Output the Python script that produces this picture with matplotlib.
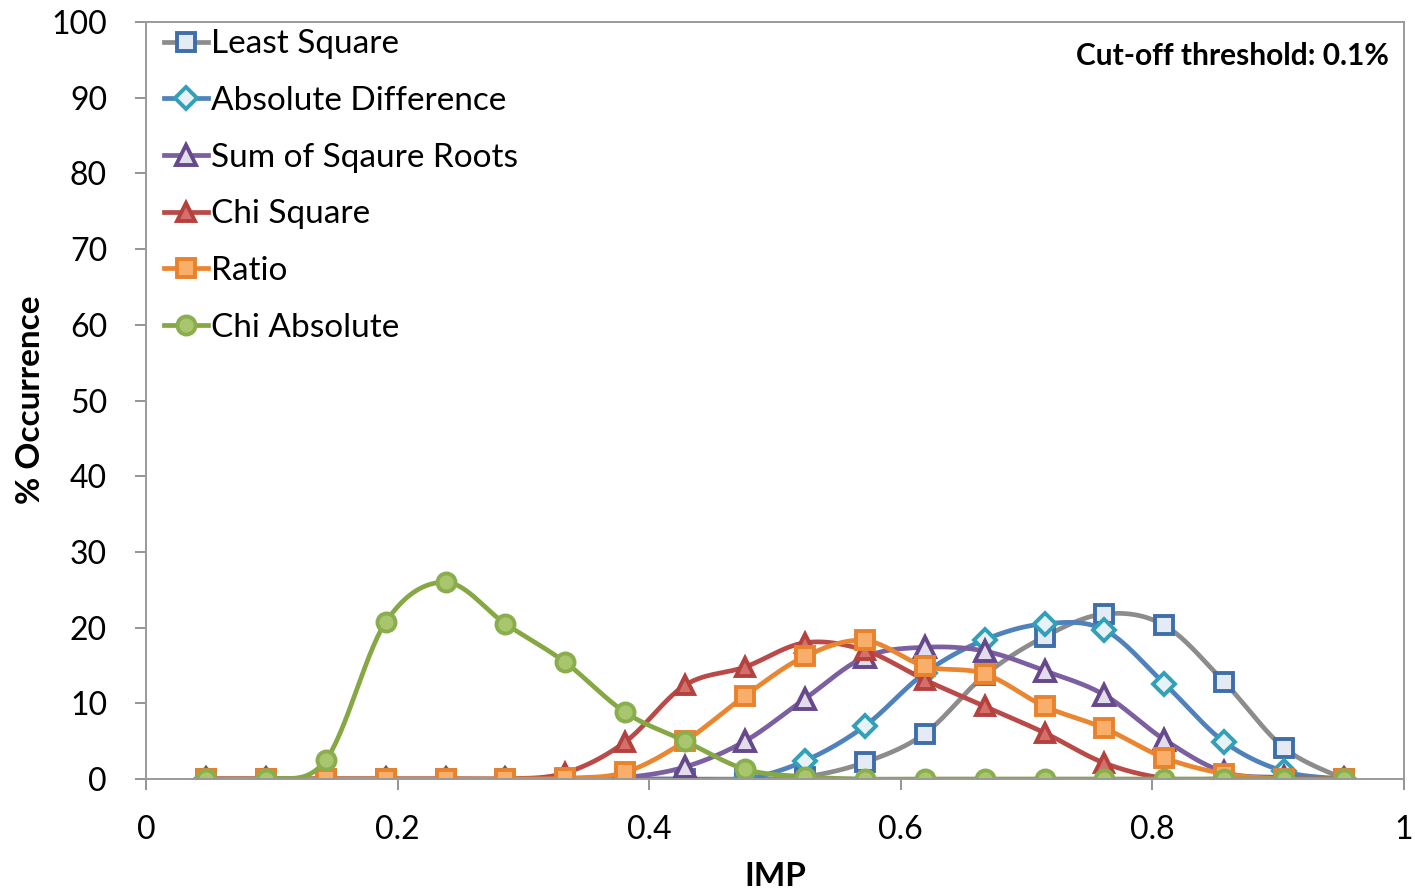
import numpy as np
import matplotlib
matplotlib.use("Agg")
import matplotlib.pyplot as plt
from matplotlib.lines import Line2D

plt.rcParams["font.family"] = ["Lato", "DejaVu Sans"]

# IMP bins at k/21, k = 1..20
imp = [k / 21 for k in range(1, 21)]

least_square = [0, 0, 0, 0, 0, 0, 0, 0, 0, 0, 0.3, 2.2, 6.0, 13.7, 18.8, 21.8, 20.3, 12.8, 4.1, 0]
abs_difference = [0, 0, 0, 0, 0, 0, 0, 0, 0, 0, 2.4, 7.0, 14.0, 18.4, 20.5, 19.7, 12.6, 4.9, 1.0, 0]
sum_sqrt = [0, 0, 0, 0, 0, 0, 0, 0.2, 1.6, 5.0, 10.6, 16.1, 17.4, 16.9, 14.3, 11.1, 5.2, 0.9, 0.2, 0]
chi_square = [0, 0, 0, 0, 0, 0, 0.8, 4.9, 12.4, 14.8, 18.0, 17.0, 13.1, 9.6, 6.1, 2.1, 0.1, 0, 0, 0]
ratio = [0, 0, 0, 0, 0, 0, 0.1, 0.9, 5.0, 11.0, 16.2, 18.3, 14.9, 13.9, 9.6, 6.7, 2.8, 0.7, 0, 0]
chi_absolute = [0, 0, 2.5, 20.7, 26.0, 20.5, 15.4, 8.8, 5.0, 1.3, 0.3, 0, 0, 0, 0, 0, 0, 0, 0, 0]

labels = ["Least Square", "Absolute Difference", "Sum of Sqaure Roots",
          "Chi Square", "Ratio", "Chi Absolute"]


def smooth(x, y, n=30):
    # Excel-style smoothed line: cubic Bezier with Catmull-Rom control points
    x = np.asarray(x, float)
    y = np.asarray(y, float)
    px = np.concatenate([[x[0]], x, [x[-1]]])
    py = np.concatenate([[y[0]], y, [y[-1]]])
    t = np.linspace(0, 1, n)[:, None]
    xs, ys = [], []
    for i in range(1, len(px) - 2):
        p0 = np.array([px[i], py[i]])
        p3 = np.array([px[i + 1], py[i + 1]])
        p1 = p0 + (np.array([px[i + 1], py[i + 1]]) - np.array([px[i - 1], py[i - 1]])) / 6
        p2 = p3 - (np.array([px[i + 2], py[i + 2]]) - np.array([px[i], py[i]])) / 6
        b = ((1 - t) ** 3) * p0 + 3 * ((1 - t) ** 2) * t * p1 + 3 * (1 - t) * t ** 2 * p2 + t ** 3 * p3
        xs.append(b[:, 0])
        ys.append(b[:, 1])
    return np.concatenate(xs), np.concatenate(ys)


styles = [
    # line colour, marker, face, edge
    ("#8C8C8C", "s", "#E4EBF5", "#3F6FAA"),
    ("#4F81BD", "D", "#E6F2F6", "#31A0B8"),
    ("#7C5FA0", "^", "#E2DCEC", "#65498A"),
    ("#B94A47", "^", "#D56F6C", "#B5413E"),
    ("#EB8630", "s", "#F9AE6A", "#E8822D"),
    ("#86A844", "o", "#A9C66E", "#8AAE4E"),
]
msizes = [13, 11, 14, 13, 13, 13]

fig = plt.figure(figsize=(14.15, 8.92), dpi=100)
ax = fig.add_axes([146 / 1415, 113 / 892, 1258 / 1415, 757 / 892])

series = [least_square, abs_difference, sum_sqrt, chi_square, ratio, chi_absolute]
handles = []
for vals, lab, (lc, mk, fc, ec), ms in zip(series, labels, styles, msizes):
    sx, sy = smooth(imp, vals)
    ax.plot(sx, sy, color=lc, lw=3.4, solid_capstyle="round")
    ax.plot(imp, vals, ls="none", marker=mk, ms=ms, mfc=fc, mec=ec, mew=2.8)
    handles.append(Line2D([], [], color=lc, lw=3.4, marker=mk, ms=ms, mfc=fc, mec=ec, mew=2.8))

ax.set_xlim(0, 1)
ax.set_ylim(0, 100)
ax.set_xticks([0, 0.2, 0.4, 0.6, 0.8, 1])
ax.set_xticklabels(["0", "0.2", "0.4", "0.6", "0.8", "1"])
ax.set_yticks(range(0, 101, 10))
ax.tick_params(labelsize=23, length=8, width=1.3, color="#8C8C8C", direction="out")
ax.tick_params(axis="x", pad=18)
ax.tick_params(axis="y", pad=20)
for s in ax.spines.values():
    s.set_color("#9A9A9A")
    s.set_linewidth(1.4)

ax.set_xlabel("IMP", fontsize=24, fontweight="bold", labelpad=12)
fig.text(31 / 1415, (892 - 400) / 892, "% Occurrence", rotation=90, ha="center", va="center",
         fontsize=24, fontweight="bold")

ax.text(0.988, 0.955, "Cut-off threshold: 0.1%", transform=ax.transAxes,
        ha="right", va="center", fontsize=21.5, fontweight="bold")

ax.legend(handles, labels, loc="upper left", bbox_to_anchor=(0.004, 1.008), frameon=False,
          fontsize=24, handlelength=1.3, handletextpad=0.1, labelspacing=0.8,
          borderaxespad=0.2, borderpad=0.2)

fig.savefig("out.png", dpi=100)
